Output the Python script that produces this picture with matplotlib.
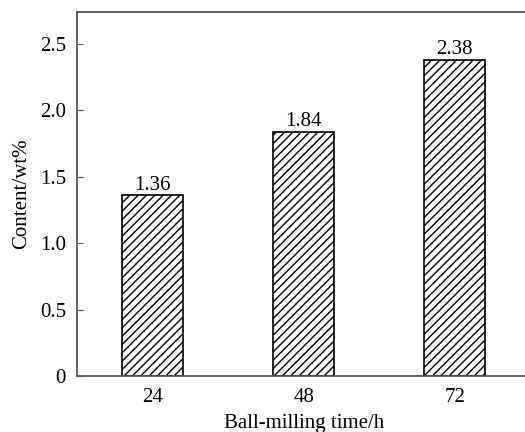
import matplotlib
matplotlib.use("Agg")
import matplotlib.pyplot as plt
import numpy as np

times = ["24", "48", "72"]
content = [1.36, 1.84, 2.38]
yticks = [0, 0.5, 1.0, 1.5, 2.0, 2.5]
ytick_labels = ["0", "0.5", "1.0", "1.5", "2.0", "2.5"]

plt.rcParams['font.family'] = ['Liberation Serif', 'DejaVu Serif']
plt.rcParams['hatch.linewidth'] = 1.0

fig = plt.figure(figsize=(5.25, 4.32), dpi=100)
ax = fig.add_axes([77/525, 1 - 376/432, 1 - 77/525 + 0.01, (376 - 12)/432])

x = np.arange(len(times))
bars = ax.bar(x, content, width=0.4, color='white', edgecolor='black',
              hatch='////', linewidth=1.2, zorder=2)
for xi, v in zip(x, content):
    ax.text(xi, v + 0.005, f"{v:.2f}", ha='center', va='bottom', fontsize=15)

ax.set_xlim(-0.5, 2.5)
ax.set_ylim(0, 2.74)
ax.set_xticks(x)
ax.set_xticklabels(times)
ax.set_yticks(yticks)
ax.set_yticklabels(ytick_labels)
ax.tick_params(direction='in', labelsize=15, color='#555555', length=4)
ax.tick_params(axis='x', pad=9)
ax.tick_params(axis='y', pad=8)
for side in ['left', 'top', 'bottom']:
    ax.spines[side].set_color('#555555')
    ax.spines[side].set_linewidth(1.3)
ax.spines['right'].set_visible(False)

ax.set_xlabel("Ball-milling time/h", fontsize=15, labelpad=5)
ax.set_ylabel("Content/wt%", fontsize=15, labelpad=6)

fig.savefig("out.png", dpi=100)
